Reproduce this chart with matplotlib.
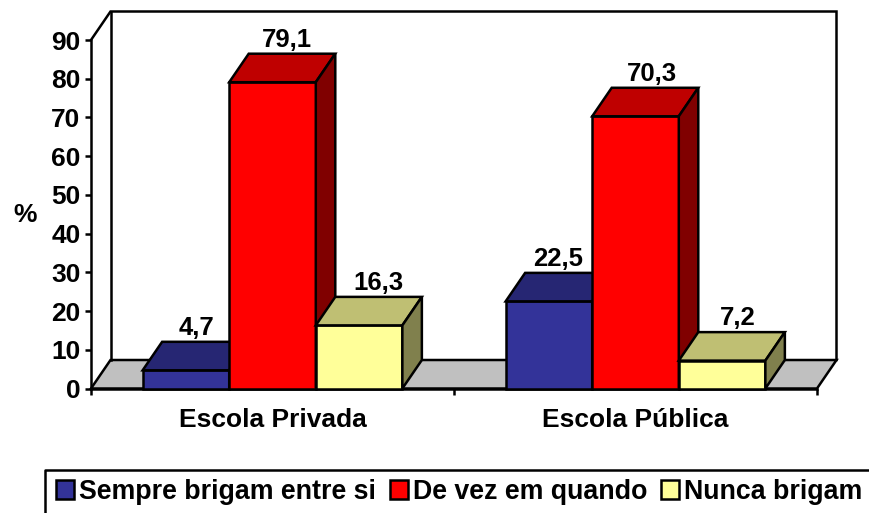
import matplotlib
matplotlib.use("Agg")
import matplotlib.pyplot as plt
from matplotlib.patches import Polygon, Patch
from matplotlib.lines import Line2D

plt.rcParams['font.family'] = ['Liberation Sans', 'DejaVu Sans']
plt.rcParams['font.weight'] = 'bold'

# data
categories = ["Escola Privada", "Escola Pública"]
series_names = ["Sempre brigam entre si", "De vez em quando", "Nunca brigam"]
sempre = [4.7, 22.5]
de_vez = [79.1, 70.3]
nunca = [16.3, 7.2]
yticks = list(range(0, 100, 10))

# style
W, H = 869, 513
front_colors = ["#333399", "#FF0000", "#FFFF99"]
top_colors = ["#262673", "#BF0000", "#BFBF73"]
side_colors = ["#1A1A4D", "#800000", "#80804D"]
floor_color = "#C0C0C0"
LW = 1.8
AX_L, AX_R, AX_T, AX_B = 91, 817, 40, 388.5
DX_PX, DY_PX = 19.5, 28.5
BAR_W = 0.2385
FS = 19
FS_VAL = 18.5
FS_LEG = 19.3
label_dx = [[11, 14, 19], [9, 16, 16]]
label_up = 2

fig = plt.figure(figsize=(W / 100, H / 100), dpi=100, facecolor="white")
ax = fig.add_axes([AX_L / W, 1 - AX_B / H, (AX_R - AX_L) / W, (AX_B - AX_T) / H])
ax.set_xlim(0, len(categories))
ax.set_ylim(0, 90)
ax.patch.set_visible(False)
for s in ("top", "right"):
    ax.spines[s].set_visible(False)
for s in ("left", "bottom"):
    ax.spines[s].set_linewidth(LW)
    ax.spines[s].set_zorder(1.5)

dx = DX_PX / ((AX_R - AX_L) / len(categories))
dy = DY_PX / ((AX_B - AX_T) / 90)
xmax = len(categories)

# floor and walls
ax.add_patch(Polygon([(0, 0), (xmax, 0), (xmax + dx, dy), (dx, dy)], closed=True,
                     fc=floor_color, ec="black", lw=LW, clip_on=False, zorder=1))
ax.add_line(Line2D([0, dx, xmax + dx, xmax + dx], [90, 90 + dy, 90 + dy, dy],
                   color="black", lw=LW, clip_on=False, zorder=1, solid_joinstyle="miter"))
ax.add_line(Line2D([dx, dx], [dy, 90 + dy], color="black", lw=LW, clip_on=False, zorder=1))


def box(x0, w, v, k, z):
    kw = dict(closed=True, ec="black", lw=LW, clip_on=False, zorder=z, joinstyle="miter")
    ax.add_patch(Polygon([(x0, 0), (x0 + w, 0), (x0 + w, v), (x0, v)], fc=front_colors[k], **kw))
    ax.add_patch(Polygon([(x0, v), (x0 + w, v), (x0 + w + dx, v + dy), (x0 + dx, v + dy)],
                         fc=top_colors[k], **kw))
    ax.add_patch(Polygon([(x0 + w, 0), (x0 + w + dx, dy), (x0 + w + dx, v + dy), (x0 + w, v)],
                         fc=side_colors[k], **kw))


for c in range(len(categories)):
    for k, vals in enumerate([sempre, de_vez, nunca]):
        x0 = c + 0.5 + (k - 1.5) * BAR_W
        v = vals[c]
        box(x0, BAR_W, v, k, 2 + c + k * 0.1)
        ax.annotate(f"{v:.1f}".replace(".", ","), (x0 + BAR_W / 2, v + dy),
                    xytext=(label_dx[c][k], label_up), textcoords="offset pixels",
                    ha="center", va="bottom", fontsize=FS_VAL, fontweight="bold",
                    color="black", zorder=10, annotation_clip=False)

# axes ticks and labels
ax.set_yticks(yticks)
ax.set_xticks(range(len(categories) + 1))
ax.set_xticklabels([])
ax.set_xticks([c + 0.5 for c in range(len(categories))], minor=True)
ax.set_xticklabels(categories, minor=True, fontsize=FS, fontweight="bold")
ax.tick_params(axis="x", which="major", length=4.5, width=LW, direction="out")
ax.tick_params(axis="x", which="minor", length=0, pad=14)
ax.tick_params(axis="y", length=4.5, width=LW, direction="out", pad=3, labelsize=FS)
for t in ax.get_yticklabels():
    t.set_fontweight("bold")
ax.set_ylabel("%", fontsize=FS, fontweight="bold", rotation=0, labelpad=0)
ax.yaxis.set_label_coords((25 - AX_L) / (AX_R - AX_L), (AX_B - 215) / (AX_B - AX_T))
ax.yaxis.label.set_va("center")
ax.yaxis.label.set_ha("center")

# legend with open frame running off the canvas
fig.add_artist(Line2D([45 / W, 45 / W, 1], [0, 1 - 470 / H, 1 - 470 / H],
                      color="black", lw=LW, transform=fig.transFigure))
handles = [Patch(fc=c, ec="black", lw=LW) for c in front_colors]
fig.legend(handles, series_names, loc="center left", ncol=3, frameon=False,
           bbox_to_anchor=(56 / W, 1 - 492 / H), fontsize=FS_LEG,
           handlelength=0.67, handleheight=0.67, handletextpad=0.19,
           columnspacing=0.52, borderpad=0, borderaxespad=0)

fig.savefig("out.png", dpi=100)
